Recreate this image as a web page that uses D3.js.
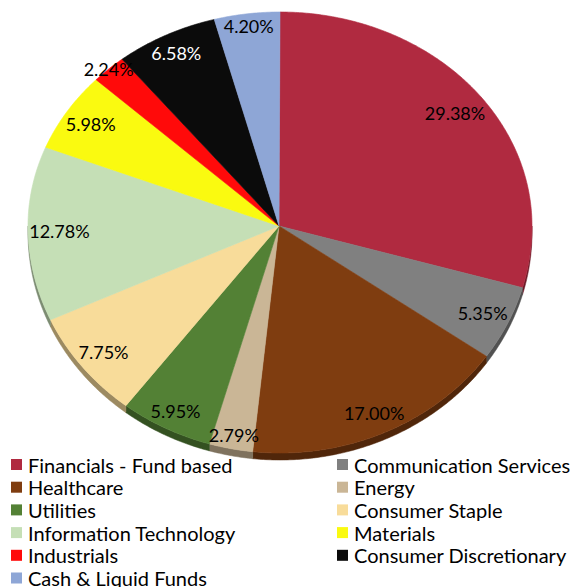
<!DOCTYPE html>
<html>
<head>
<meta charset="utf-8">
<script src="https://cdn.jsdelivr.net/npm/d3@7"></script>
<style>
  html, body { margin: 0; padding: 0; background: #fff; }
  svg { display: block; }
  text { font-family: Lato, "Open Sans", sans-serif; }
</style>
</head>
<body>
<svg id="chart" width="577" height="587"></svg>
<script>
const categories = [
  "Financials - Fund based", "Communication Services", "Healthcare", "Energy",
  "Utilities", "Consumer Staple", "Information Technology", "Materials",
  "Industrials", "Consumer Discretionary", "Cash & Liquid Funds"
];
const values = [29.38, 5.35, 17.00, 2.79, 5.95, 7.75, 12.78, 5.98, 2.24, 6.58, 4.20];
const colors = [
  "#B02A40", "#808080", "#7F3D10", "#CAB696", "#538135", "#F8DC9A",
  "#C5DFB6", "#FAFA10", "#FF0A0A", "#0B0B0B", "#8EA6D6"
];

const svg = d3.select("#chart");

// pie geometry (slightly perspective ellipse)
const cx = 280, cy = 226, rx = 252, ryTop = 214, ryBot = 227, depth = 7;

function P(a, dy = 0) {
  const c = Math.cos(a);
  return [cx + rx * Math.sin(a), cy - (c >= 0 ? ryTop : ryBot) * c + dy];
}
function arcPts(a0, a1, dy = 0) {
  const n = Math.max(2, Math.ceil((a1 - a0) / (Math.PI / 360)));
  const pts = [];
  for (let i = 0; i <= n; i++) pts.push(P(a0 + (a1 - a0) * i / n, dy));
  return pts;
}

const pie = d3.pie().sort(null).value(d => d.v);
const data = categories.map((c, i) => ({ name: c, v: values[i], color: colors[i] }));
const arcs = pie(data);

// sides (visible only on the lower half)
const gSide = svg.append("g");
arcs.forEach(a => {
  const s = Math.max(a.startAngle, Math.PI / 2);
  const e = Math.min(a.endAngle, 3 * Math.PI / 2);
  if (e <= s) return;
  const top = arcPts(s, e, 0);
  const bot = arcPts(s, e, depth).reverse();
  const dark = d3.color(a.data.color).darker(1.3);
  gSide.append("path")
    .attr("d", d3.line()(top.concat(bot)) + "Z")
    .attr("fill", dark)
    .attr("stroke", dark)
    .attr("stroke-width", 0.5);
});

// faces
const gFace = svg.append("g");
arcs.forEach(a => {
  const pts = [[cx - 1, cy]].concat(arcPts(a.startAngle, a.endAngle));
  gFace.append("path")
    .attr("d", d3.line()(pts) + "Z")
    .attr("fill", a.data.color)
    .attr("stroke", a.data.color)
    .attr("stroke-width", 0.6)
    .attr("stroke-linejoin", "round");
});

// labels (inside end; very small slices sit on the edge)
const fmt = d3.format(".2f");
const gLab = svg.append("g");
arcs.forEach(a => {
  const m = (a.startAngle + a.endAngle) / 2;
  const lum = d3.hsl(a.data.color).l;
  const t = gLab.append("text")
    .attr("font-size", 18)
    .attr("text-anchor", "middle")
    .attr("dominant-baseline", "central")
    .attr("fill", lum < 0.15 ? "#fff" : "#000")
    .text(fmt(a.data.v) + "%");
  const bb = t.node().getBBox();
  const hw = bb.width / 2, hh = bb.height / 2 - 3;
  const e = P(m);
  const dx = e[0] - (cx - 1), dy = e[1] - cy;
  const L = Math.hypot(dx, dy);
  const ux = dx / L, uy = dy / L;
  let off = hw * Math.abs(ux) + hh * Math.abs(uy) + 1;
  if (a.data.v < 2.5) off = 0;
  t.attr("x", e[0] - ux * off).attr("y", e[1] - uy * off);
});

// legend
const legend = svg.append("g");
const colX = [11, 337], rowY0 = 464.5, rowH = 22.7, sq = 11;
data.forEach((d, i) => {
  const col = i % 2, row = Math.floor(i / 2);
  const y = rowY0 + row * rowH;
  legend.append("rect")
    .attr("x", colX[col]).attr("y", y - sq / 2)
    .attr("width", sq).attr("height", sq)
    .attr("fill", d.color);
  legend.append("text")
    .attr("x", colX[col] + 17).attr("y", y)
    .attr("dominant-baseline", "central")
    .attr("font-size", 20)
    .attr("fill", "#000")
    .text(d.name);
});
</script>
</body>
</html>
